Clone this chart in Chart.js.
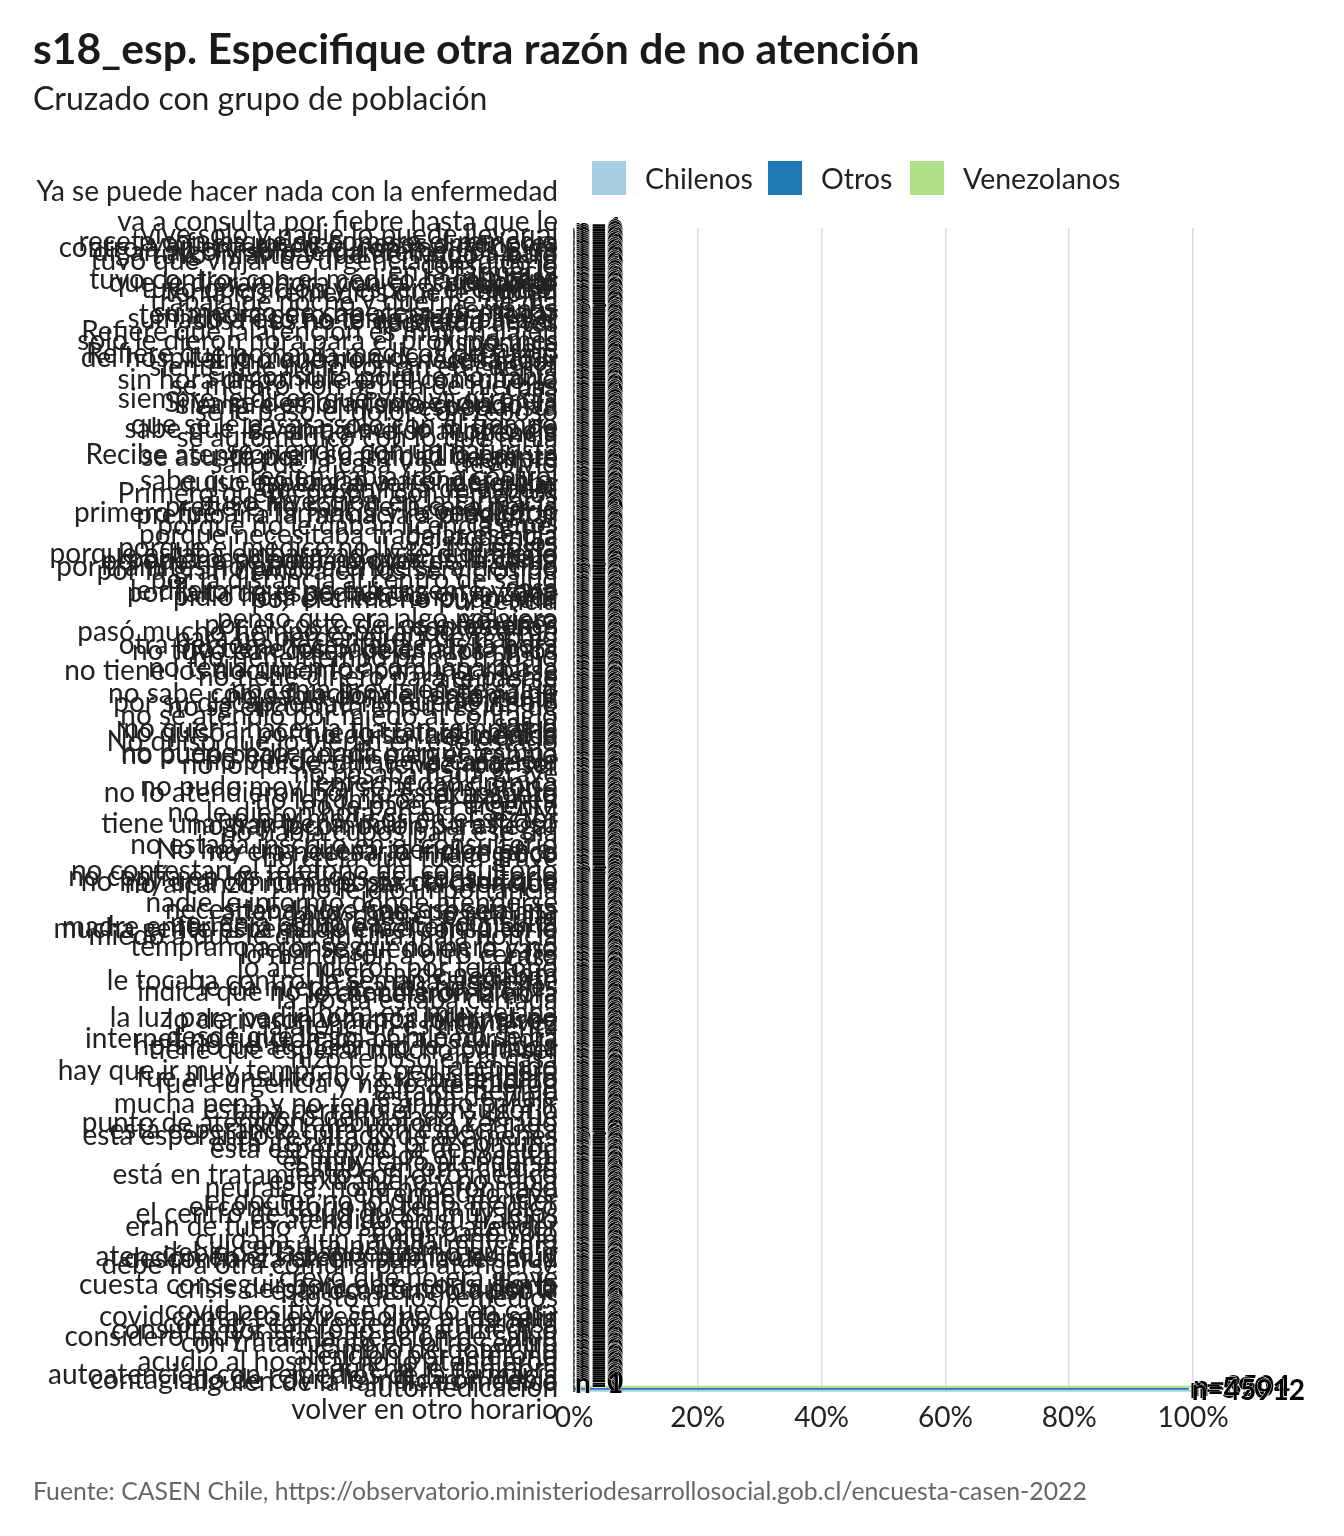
<!DOCTYPE html>
<html>
<head>
<meta charset="utf-8">
<script src="https://cdn.jsdelivr.net/npm/chart.js@4/dist/chart.umd.min.js"></script>
<style>
  html, body { margin: 0; padding: 0; background: #fff; }
  #wrap { position: relative; width: 1344px; height: 1536px; overflow: hidden; font-family: Lato, "Noto Sans", sans-serif; }
  #c { position: absolute; left: 0; top: 0; }
  .txt { position: absolute; white-space: nowrap; color: #1a1a1a; }
  #title { left: 33px; top: 23px; font-size: 42.7px; font-weight: bold; line-height: 50px; }
  #subtitle { left: 33px; top: 80px; font-size: 32px; line-height: 36px; color: #222; }
  #caption { left: 33px; top: 1476px; font-size: 24.8px; line-height: 30px; color: #666; }
  .lg { position: absolute; top: 161px; height: 34px; display: flex; align-items: center; font-size: 28.5px; color: #222; }
  .lg span.box { display: inline-block; width: 34px; height: 34px; margin-right: 19px; }
</style>
</head>
<body>
<div id="wrap">
  <canvas id="c" width="1344" height="1536"></canvas>
  <div id="title" class="txt">s18_esp. Especifique otra razón de no atención</div>
  <div id="subtitle" class="txt">Cruzado con grupo de población</div>
  <div id="legend"></div>
  <div id="caption" class="txt">Fuente: CASEN Chile, https://observatorio.ministeriodesarrollosocial.gob.cl/encuesta-casen-2022</div>
</div>
<script>
const categorias = [
  "Ya se puede hacer nada con la enfermedad va a consulta por fiebre hasta que le digan algo y solo le dan remedios para el dolor",
  "ya fue a médico meses anteriores",
  "vive solo y nadie lo puede llevar al consultorio",
  "receta con la que se compró el remedio en la farmacia",
  "controla su enfermedad con remedios de la casa",
  "tuvo infarto y fue derivado a otro hospital",
  "tuvo que viajar de urgencia fuera de la ciudad",
  "que le dieran hora con el especialista",
  "tuvo operación y espera el control",
  "tuvo control con el médico hace pocas semanas",
  "trabaja de noche y duerme de día",
  "tenía los remedios que le habían recetado antes",
  "tenía hora pero no alcanzó a llegar",
  "sus hijos no lo quisieron llevar",
  "su médico de cabecera no estaba disponible",
  "sumado a eso no tenía plata para el pasaje",
  "solo le dieron hora para el próximo mes",
  "Refiere que la atención es muy mala en su sector",
  "Refiere que no había médicos de turno",
  "sintió que no era necesario ir",
  "siente que no lo toman en cuenta",
  "del hospital lo mandaron de vuelta a su casa",
  "sin hora disponible en el consultorio",
  "se mejoró con agüita de hierbas",
  "sin consulta porque no había especialista",
  "siempre le dicen que vuelva otro día",
  "siempre es lo mismo cuando va",
  "se le pasó el dolor con reposo",
  "Si va se demora todo el día en la urgencia",
  "que se le pasara solo con el tiempo",
  "se sintió mejor al otro día",
  "se automedicó con lo que tenía",
  "sabe que le van a decir lo mismo de siempre",
  "se atendió con un naturista",
  "se asustó por la cantidad de gente",
  "salió de la casa y se devolvió",
  "Recibe atención en su domicilio por un familiar",
  "recién había ido a control",
  "quiso esperar a ver si mejoraba",
  "quedó en lista de espera",
  "sabe que no lo van a atender en el consultorio",
  "puso inyección en la farmacia",
  "Primero quería probar con remedios caseros",
  "prefirió ir a la farmacia a preguntar",
  "prefiere no salir de la casa por la delincuencia",
  "primero fue a la farmacia y le vendieron remedios",
  "porque necesitaba trabajar ese día",
  "porque no le daban licencia en el trabajo",
  "porque el médico no llegó a la posta",
  "porque estaba embarazada y le dio miedo",
  "porque no se podía mover de la cama",
  "por trámites no pudo atenderse a tiempo",
  "por la pandemia no quiso salir de la casa",
  "por la distancia al centro de salud",
  "por la gran demora en los servicios de urgencia",
  "por falta de especialistas en la zona",
  "por el clima no pudo salir",
  "le dijeron que no era urgente y que volviera",
  "pidió hora por teléfono y nunca contestaron",
  "pensó que era algo pasajero",
  "por el costo de los exámenes",
  "pasó mucho tiempo esperando y se fue",
  "para no perder el día de trabajo",
  "otra persona necesitaba más la hora",
  "no tuvo con quién dejar a los niños",
  "no tiene tiempo por el trabajo",
  "no tiene los papeles al día para atenderse",
  "no tiene los documentos para inscribirse",
  "no tiene dinero para el pasaje",
  "no tenía quién lo acompañara a la consulta",
  "no tenía previsión de salud",
  "no sabía dónde tenía que ir",
  "por su discapacidad no puede ir solo",
  "no sabe cómo funciona el sistema de salud",
  "no se atendió por miedo al contagio",
  "no se encuentra en su región de residencia",
  "no quería hacer la fila tan temprano",
  "no quiso ir al médico",
  "No quiso que lo vieran en ese estado",
  "No quiso ir porque lo trataron mal la vez anterior",
  "no pudo pedir permiso en el trabajo",
  "no puede salir de la casa sola",
  "no puede hacer nada porque es una enfermedad crónica",
  "no pasaba nada grave",
  "no lo quisieron atender por ser extranjero",
  "no pudo movilizarse al consultorio",
  "no lo atendieron por no estar inscrito",
  "no le tomaron el examen",
  "no le parecía urgente",
  "no le dieron hora en el CESFAM",
  "no hay médicos en el sector",
  "no hay locomoción para llegar",
  "no había cupos para ese día",
  "tiene una gran pena, murió su esposo hace poco",
  "no estaba inscrito en el consultorio",
  "no era necesario ir al médico",
  "no creía que fuera grave",
  "No hay una buena atención en el consultorio",
  "no contestan el teléfono del consultorio",
  "no confía en los médicos del consultorio",
  "no alcanzó número para la atención",
  "no le dio importancia",
  "no hay una clínica ni posta cercana que atienda los fines de semana",
  "nadie le informó dónde atenderse",
  "necesitaba hora con especialista",
  "muy caro el particular",
  "no tenía cómo pagar la consulta",
  "mucha gente esperando en el consultorio",
  "miedo a que le dieran una mala noticia",
  "madre enfermera así que la atendió en la casa",
  "mejor se quedó en la casa",
  "lo mandaron a otro centro",
  "temprano a conseguir número y no quedaban",
  "lo atendieron por teléfono",
  "llegó tarde a la hora",
  "le tocaba control la semana siguiente",
  "le da miedo ir a los hospitales",
  "le cancelaron la hora",
  "la posta estaba cerrada",
  "indica que no lo atendieron bien la última vez",
  "la hora era muy lejana",
  "lo derivaron y nunca lo llamaron",
  "la atención es muy lenta",
  "la luz para pedir hora por internet no había",
  "internet no funcionaba para pedir hora",
  "horario de atención no le acomoda",
  "desde que llegó a Chile no se ha atendido",
  "hizo reposo en la casa",
  "tiene que esperar mucho para ser atendido",
  "hay que ir muy temprano a pedir número",
  "fue al consultorio y estaba en paro",
  "fue a urgencia y no lo atendieron",
  "falta de tiempo",
  "estaba de viaje",
  "mucha pena y no tenía ánimo para ir",
  "estaba cerrado el consultorio",
  "esperó demasiado y se fue",
  "punto de atención ambulatoria cerrado",
  "está esperando hora con especialista",
  "está esperando resultado de exámenes",
  "está inscrito en otra comuna",
  "está esperando la derivación",
  "es muy lejos el hospital",
  "es muy caro atenderse",
  "estaba en otra ciudad",
  "está en tratamiento con otro médico",
  "es extranjero y no sabía",
  "neuralgia, no le hicieron caso",
  "enfermedad leve",
  "el doctor no lo quiso atender",
  "el consultorio no tenía médico",
  "el centro de salud queda muy lejos",
  "es atendido en su trabajo",
  "eran de turno y no se pudo atender",
  "dolor pasó solo",
  "cuidaba a un familiar enfermo",
  "consulta privada muy cara",
  "debido a la pandemia no quiso ir",
  "desconfianza en el sistema de salud",
  "debe ir a otra comuna para atenderse",
  "atención en el sistema público es muy lenta",
  "creyó que no era grave",
  "cuesta conseguir hora en el consultorio",
  "esta ocasión no quiso ir",
  "costo de los remedios",
  "crisis de pánico, atendida por la familia",
  "covid positivo, se quedó en casa",
  "covid contacto estrecho no pudo salir",
  "contaba con remedios en la casa",
  "consultó por teléfono con su médico",
  "considero muy mala la atención de salud",
  "con tratamiento en otro centro",
  "cambio de domicilio",
  "atención por teléfono",
  "acudió al hospital no lo atendieron",
  "aún no le dan hora",
  "autoatención con remedios de la farmacia",
  "alguien de la familia es médico",
  "automedicación",
  "contagiado de covid le indicaron debía volver en otro horario"
];

// casos (n) por categoría y grupo
const chilenos = [
  0,1,1,1,1,1,0,1,1,1,1,1,0,1,1,1,1,1,1,1,
  1,1,1,1,1,1,0,1,1,1,2,1,1,1,1,1,1,1,1,1,
  1,1,1,1,0,1,1,1,1,1,1,1,0,1,1,1,1,1,0,1,
  1,1,1,1,1,1,1,1,1,1,1,1,1,1,1,0,1,1,1,1,
  1,1,1,1,0,1,1,1,1,1,1,1,1,1,1,1,1,1,1,0,
  1,1,1,1,1,1,1,1,1,1,1,1,1,1,1,1,1,1,1,1,
  1,1,1,1,1,1,0,1,1,1,1,1,1,1,1,1,1,1,1,1,
  0,1,1,1,1,1,0,1,1,1,1,1,1,1,1,1,1,1,1,1,
  1,1,1,1,1,1,0,1,1,1,1,1,1,1,1,1,1,1,1,45912
];
const otros = [
  0,0,0,0,0,0,0,0,0,0,0,0,1,0,0,0,0,0,0,0,
  0,0,0,0,0,0,0,0,0,0,0,0,0,0,0,0,0,0,0,0,
  0,0,0,0,0,0,0,0,0,0,0,0,1,0,0,0,0,0,0,0,
  0,0,0,0,0,0,0,0,0,0,0,0,0,0,0,0,0,0,0,0,
  0,0,0,0,0,0,0,0,0,0,0,0,0,0,0,0,0,0,0,1,
  0,0,0,0,0,0,0,0,0,0,0,0,0,0,0,0,0,0,0,0,
  0,0,0,0,0,0,0,0,0,0,0,0,0,0,0,0,0,0,0,0,
  1,0,0,0,0,0,0,0,0,0,0,0,0,0,0,0,0,0,0,0,
  0,0,0,0,0,0,0,0,0,0,0,0,0,0,0,0,0,0,0,590
];
const venezolanos = [
  1,0,0,0,0,0,1,0,0,0,0,0,0,0,0,0,0,0,0,0,
  0,0,0,0,0,0,1,0,0,0,0,0,0,0,0,0,0,0,0,0,
  0,0,0,0,1,0,0,0,0,0,0,0,0,0,0,0,0,0,1,0,
  0,0,0,0,0,0,0,0,0,0,0,0,0,0,0,1,0,0,0,0,
  0,0,0,0,1,0,0,0,0,0,0,0,0,0,0,0,0,0,0,0,
  0,0,0,0,0,0,0,0,0,0,0,0,0,0,0,0,0,0,0,0,
  0,0,0,0,0,0,1,0,0,0,0,0,0,0,0,0,0,0,0,0,
  0,0,0,0,0,0,1,0,0,0,0,0,0,0,0,0,0,0,0,0,
  0,0,0,0,0,0,1,0,0,0,0,0,0,0,0,0,0,0,0,8504
];
const grupos = ["Chilenos", "Otros", "Venezolanos"];
const colores = ["#a6cee3", "#1f78b4", "#b2df8a"];
const ticksX = [0, 20, 40, 60, 80, 100];

function wrap(s, w) {
  const words = s.split(" "); const lines = []; let cur = "";
  for (const wd of words) {
    if (cur && (cur + " " + wd).length > w) { lines.push(cur); cur = wd; }
    else cur = cur ? cur + " " + wd : wd;
  }
  if (cur) lines.push(cur);
  return lines;
}
function pct(arr) { const t = arr.reduce((a, b) => a + b, 0); return arr.map(v => v / t * 100); }

// legend (HTML)
const lgX = [592, 768, 910];
const lgEl = document.getElementById("legend");
grupos.forEach((g, i) => {
  const d = document.createElement("div");
  d.className = "lg"; d.style.left = lgX[i] + "px";
  d.innerHTML = '<span class="box" style="background:' + colores[i] + '"></span><span>' + g + '</span>';
  lgEl.appendChild(d);
});

const series = { Chilenos: chilenos, Otros: otros, Venezolanos: venezolanos };
const orden = ["Venezolanos", "Otros", "Chilenos"];

const nLabels = {
  id: "nLabels",
  afterDatasetsDraw(chart) {
    const ctx = chart.ctx;
    ctx.save();
    ctx.font = "bold 28px Lato";
    ctx.textBaseline = "middle";
    ctx.textAlign = "left";
    ctx.lineJoin = "round";
    const n = chart.data.labels.length;
    for (let i = 0; i < n; i++) {
      chart.data.datasets.forEach((ds, di) => {
        const bar = chart.getDatasetMeta(di).data[i];
        const t = "n=" + ds.counts[i];
        ctx.lineWidth = 0.8; ctx.strokeStyle = "#fff";
        ctx.strokeText(t, bar.x + 1, bar.y);
        ctx.fillStyle = "#000";
        ctx.fillText(t, bar.x + 1, bar.y);
      });
    }
    ctx.restore();
  }
};

new Chart(document.getElementById("c"), {
  type: "bar",
  data: {
    labels: categorias.map(s => wrap(s, 40)),
    datasets: orden.map(g => ({
      label: g,
      data: pct(series[g]),
      counts: series[g],
      backgroundColor: colores[grupos.indexOf(g)],
      borderWidth: 0
    }))
  },
  options: {
    indexAxis: "y",
    responsive: false,
    animation: false,
    layout: { padding: { top: 228, right: 151, bottom: 104, left: 0 } },
    datasets: { bar: { categoryPercentage: 0.9, barPercentage: 1.0 } },
    plugins: { legend: { display: false }, tooltip: { enabled: false }, title: { display: false } },
    scales: {
      x: {
        min: 0, max: 100,
        afterBuildTicks(s) { s.ticks = ticksX.map(v => ({ value: v })); },
        ticks: { callback: v => v + "%", font: { family: "Lato", size: 28 }, color: "#222", padding: 9, maxRotation: 0 },
        grid: {
          drawTicks: false,
          color: c => (c.tick && c.tick.value === 0) ? "#555" : "#dcdcdc",
          lineWidth: c => (c.tick && c.tick.value === 0) ? 2 : 1.5
        },
        border: { display: false },
        afterFit(s) { s.height = 40; }
      },
      y: {
        ticks: { autoSkip: false, font: { family: "Lato", size: 28, lineHeight: 1.07 }, color: "#222", padding: 16, labelOffset: 6 },
        grid: { display: false, drawTicks: false },
        border: { display: false },
        afterFit(s) { s.width = 574; }
      }
    }
  },
  plugins: [nLabels]
});
</script>
</body>
</html>
